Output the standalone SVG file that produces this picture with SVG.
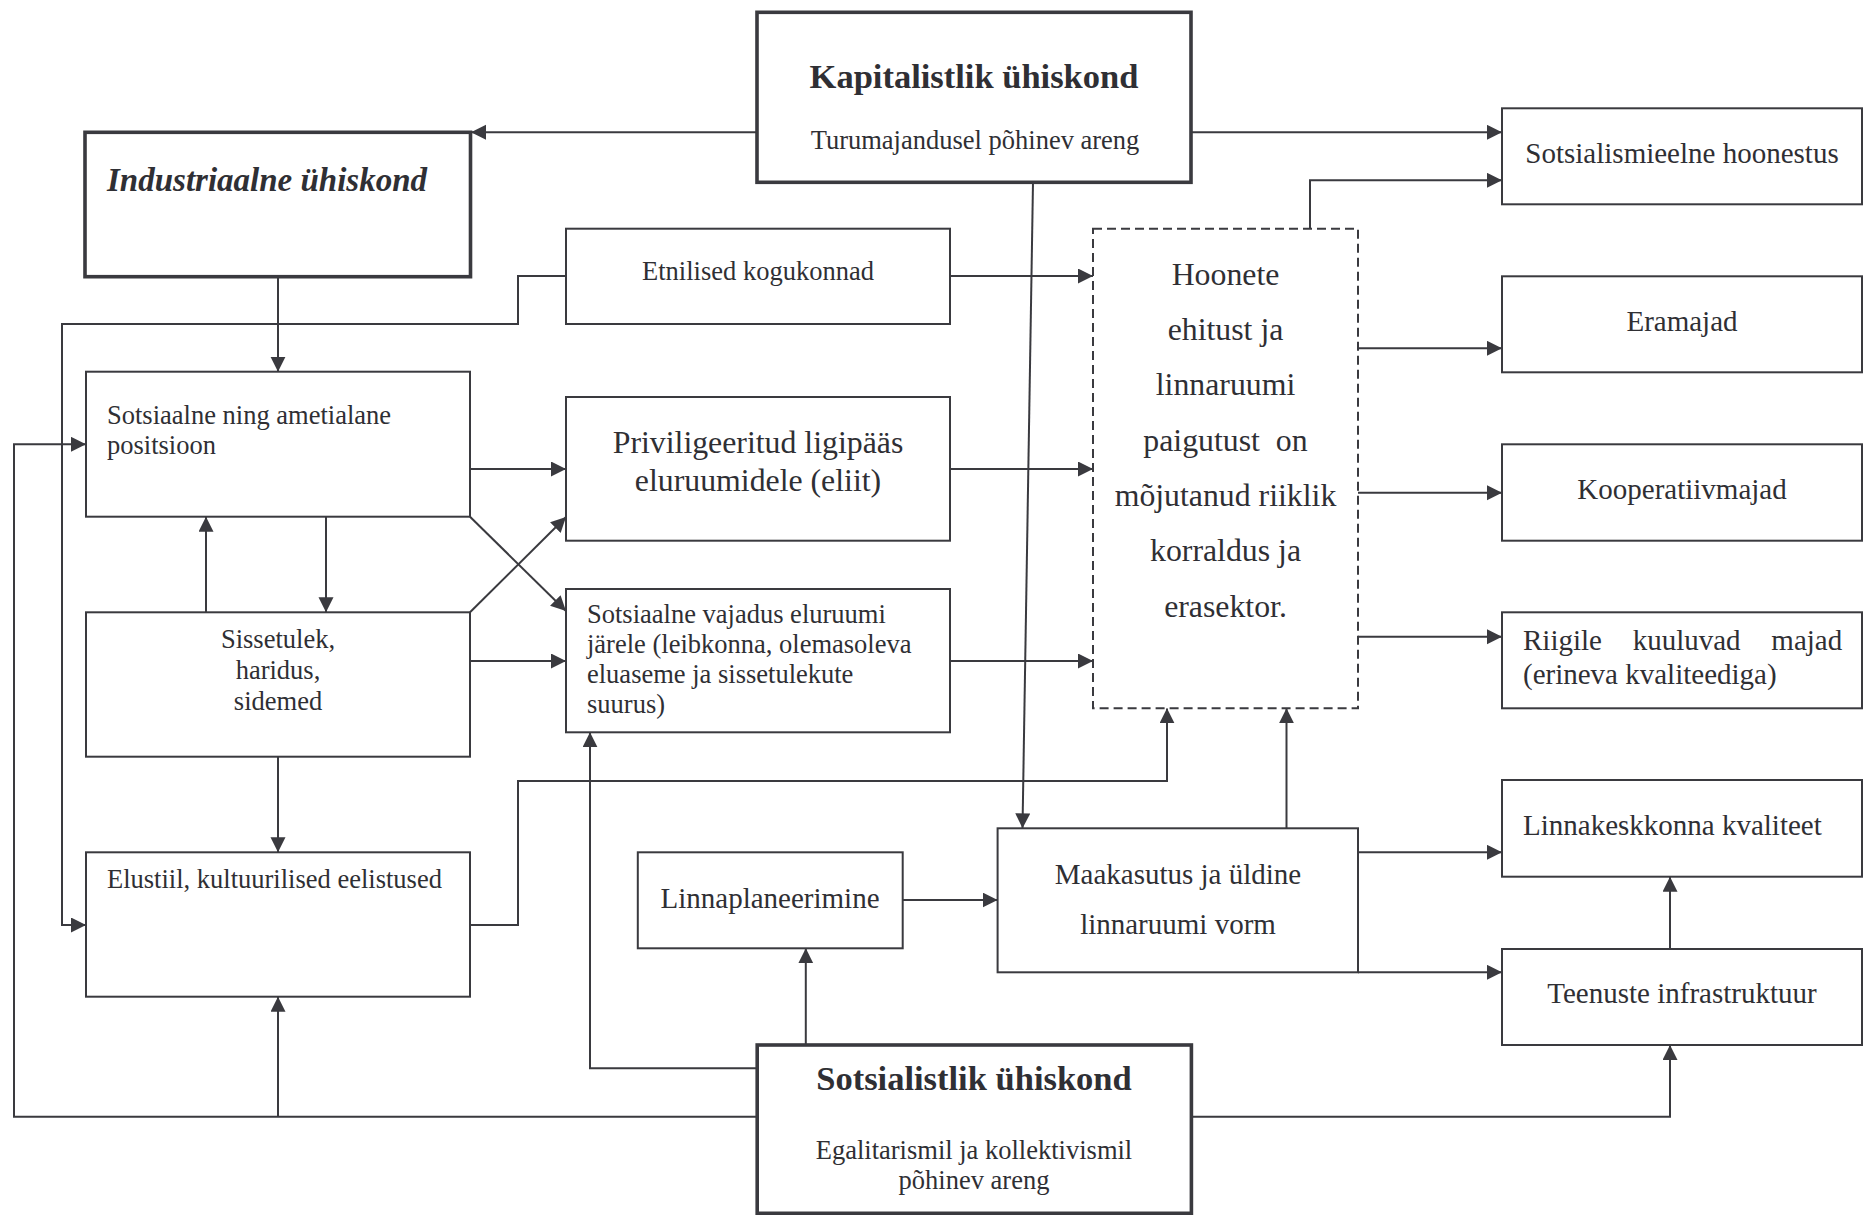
<svg xmlns="http://www.w3.org/2000/svg" width="1863" height="1215" viewBox="0 0 1863 1215">
<style>
.box{fill:#fff;stroke:#3a3a3f;stroke-width:2}
.thick{stroke-width:3.6}
.dash{stroke-dasharray:9 5}
.conn path{fill:none;stroke:#3a3a3f;stroke-width:2}
text{font-family:"Liberation Serif","Times New Roman",serif;fill:#2f2f34}
.s{font-size:26.5px}
.m{font-size:29px}
.l{font-size:31.8px}
.t{font-size:34.5px;font-weight:bold}
.bi{font-size:33px;font-weight:bold;font-style:italic}
.c{text-anchor:middle}
</style>
<defs>
<marker id="ah" markerUnits="userSpaceOnUse" markerWidth="16" markerHeight="16" refX="15" refY="7.5" orient="auto">
<path d="M0,0 L15,7.5 L0,15 z" fill="#3a3a3f"/>
</marker>
</defs>
<rect width="1863" height="1215" fill="#fff"/>

<g id="connectors" class="conn">
<path d="M757,132.3 H471" marker-end="url(#ah)"/>
<path d="M1191,132.3 H1502" marker-end="url(#ah)"/>
<path d="M1033,182.3 L1022.5,828.3" marker-end="url(#ah)"/>
<path d="M278,276.7 V371.7" marker-end="url(#ah)"/>
<path d="M566,276 H518 V324 H62 V925 H86" marker-end="url(#ah)"/>
<path d="M950,276 H1093" marker-end="url(#ah)"/>
<path d="M470,469 H566" marker-end="url(#ah)"/>
<path d="M950,469 H1093" marker-end="url(#ah)"/>
<path d="M326,516.7 V612.3" marker-end="url(#ah)"/>
<path d="M206,612.3 V516.7" marker-end="url(#ah)"/>
<path d="M470,516.7 L566,611" marker-end="url(#ah)"/>
<path d="M470,612.3 L566,517" marker-end="url(#ah)"/>
<path d="M470,661 H566" marker-end="url(#ah)"/>
<path d="M950,661 H1093" marker-end="url(#ah)"/>
<path d="M278,756.7 V852.3" marker-end="url(#ah)"/>
<path d="M470,925 H518 V781 H1167 V708.3" marker-end="url(#ah)"/>
<path d="M1310,228.7 V180.3 H1502" marker-end="url(#ah)"/>
<path d="M1358,348.3 H1502" marker-end="url(#ah)"/>
<path d="M1358,492.7 H1502" marker-end="url(#ah)"/>
<path d="M1358,636.7 H1502" marker-end="url(#ah)"/>
<path d="M1286.5,828.3 V708.3" marker-end="url(#ah)"/>
<path d="M1358,852.3 H1502" marker-end="url(#ah)"/>
<path d="M1358,972.3 H1502" marker-end="url(#ah)"/>
<path d="M1670,949 V876.7" marker-end="url(#ah)"/>
<path d="M902.7,900 H997.6" marker-end="url(#ah)"/>
<path d="M805.8,1045 V948.3" marker-end="url(#ah)"/>
<path d="M757,1068.3 H590 V732.3" marker-end="url(#ah)"/>
<path d="M757,1116.7 H14 V444.3 H86" marker-end="url(#ah)"/>
<path d="M278,1116.7 V996.7" marker-end="url(#ah)"/>
<path d="M1191,1116.7 H1670 V1045" marker-end="url(#ah)"/>
</g>

<g id="industriaalne">
<rect class="box thick" x="85" y="132.3" width="385.5" height="144.4"/>
<text class="bi" x="107" y="191">Industriaalne ühiskond</text>
</g>

<g id="kapitalistlik">
<rect class="box thick" x="757" y="12.3" width="434" height="170"/>
<text class="t c" x="974" y="88">Kapitalistlik ühiskond</text>
<text class="s c" x="975" y="149">Turumajandusel põhinev areng</text>
</g>

<g id="etnilised">
<rect class="box" x="566" y="228.7" width="384" height="95.3"/>
<text class="s c" x="758" y="280">Etnilised kogukonnad</text>
</g>

<g id="sotsiaalne-positsioon">
<rect class="box" x="86" y="371.7" width="384" height="145"/>
<text class="s" x="107" y="424">Sotsiaalne ning ametialane</text>
<text class="s" x="107" y="454">positsioon</text>
</g>

<g id="priviligeeritud">
<rect class="box" x="566" y="397" width="384" height="143.7"/>
<text class="l c" x="758" y="453">Priviligeeritud ligipääs</text>
<text class="l c" x="758" y="491">eluruumidele (eliit)</text>
</g>

<g id="sissetulek">
<rect class="box" x="86" y="612.3" width="384" height="144.4"/>
<text class="s c" x="278" y="648">Sissetulek,</text>
<text class="s c" x="278" y="679">haridus,</text>
<text class="s c" x="278" y="710">sidemed</text>
</g>

<g id="vajadus">
<rect class="box" x="566" y="589" width="384" height="143.3"/>
<text class="s" x="587" y="623">Sotsiaalne vajadus eluruumi</text>
<text class="s" x="587" y="653">järele (leibkonna, olemasoleva</text>
<text class="s" x="587" y="683">eluaseme ja sissetulekute</text>
<text class="s" x="587" y="713">suurus)</text>
</g>

<g id="elustiil">
<rect class="box" x="86" y="852.3" width="384" height="144.4"/>
<text class="s" x="107" y="888">Elustiil, kultuurilised eelistused</text>
</g>

<g id="hoonete-ehitus">
<rect class="box dash" x="1093" y="228.7" width="265" height="479.6"/>
<text class="l c" x="1225.5" y="285">Hoonete</text>
<text class="l c" x="1225.5" y="340">ehitust ja</text>
<text class="l c" x="1225.5" y="395">linnaruumi</text>
<text class="l c" x="1225.5" y="451" xml:space="preserve">paigutust  on</text>
<text class="l c" x="1225.5" y="506">mõjutanud riiklik</text>
<text class="l c" x="1225.5" y="561">korraldus ja</text>
<text class="l c" x="1225.5" y="617">erasektor.</text>
</g>

<g id="sotsialismieelne">
<rect class="box" x="1502" y="108.3" width="360" height="96"/>
<text class="m c" x="1682" y="163">Sotsialismieelne hoonestus</text>
</g>

<g id="eramajad">
<rect class="box" x="1502" y="276.3" width="360" height="96"/>
<text class="m c" x="1682" y="331">Eramajad</text>
</g>

<g id="kooperatiivmajad">
<rect class="box" x="1502" y="444.3" width="360" height="96.4"/>
<text class="m c" x="1682" y="499">Kooperatiivmajad</text>
</g>

<g id="riigile">
<rect class="box" x="1502" y="612.3" width="360" height="96"/>
<text class="m" x="1523" y="650" style="word-spacing:23.5px">Riigile kuuluvad majad</text>
<text class="m" x="1523" y="684">(erineva kvaliteediga)</text>
</g>

<g id="linnakeskkond">
<rect class="box" x="1502" y="780" width="360" height="96.7"/>
<text class="m" x="1523" y="835">Linnakeskkonna kvaliteet</text>
</g>

<g id="teenuste">
<rect class="box" x="1502" y="949" width="360" height="96"/>
<text class="m c" x="1682" y="1003">Teenuste infrastruktuur</text>
</g>

<g id="linnaplaneerimine">
<rect class="box" x="637.8" y="852.3" width="264.9" height="96"/>
<text class="m c" x="770" y="908">Linnaplaneerimine</text>
</g>

<g id="maakasutus">
<rect class="box" x="997.6" y="828.3" width="360.4" height="144"/>
<text class="m c" x="1178" y="884">Maakasutus ja üldine</text>
<text class="m c" x="1178" y="934">linnaruumi vorm</text>
</g>

<g id="sotsialistlik">
<rect class="box thick" x="757.2" y="1045" width="434.2" height="168.3"/>
<text class="t c" x="974" y="1090">Sotsialistlik ühiskond</text>
<text class="s c" x="974" y="1159">Egalitarismil ja kollektivismil</text>
<text class="s c" x="974" y="1189">põhinev areng</text>
</g>
</svg>
